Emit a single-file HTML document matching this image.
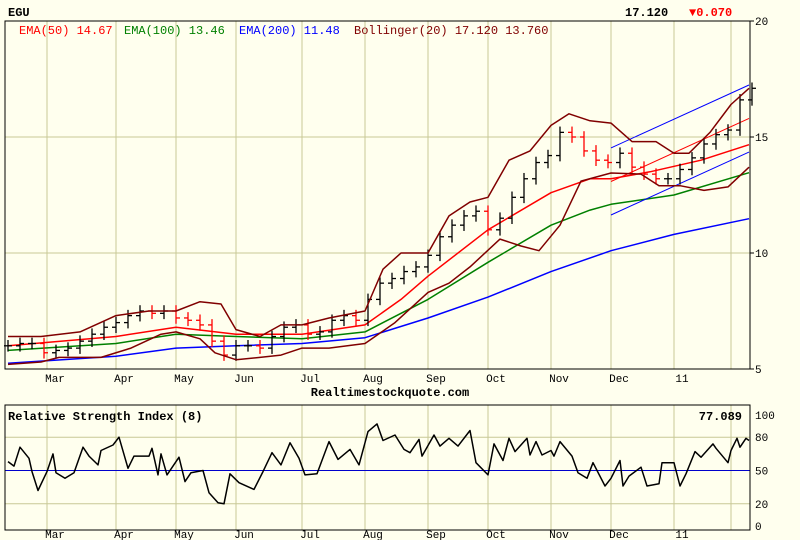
<!DOCTYPE html>
<html><head><meta charset="utf-8">
<style>
body{margin:0;background:#ffffee;}
svg{display:block;font-family:"Liberation Mono","DejaVu Sans Mono",monospace;}
</style></head>
<body>
<svg id="chart" width="800" height="540" xmlns="http://www.w3.org/2000/svg">
<rect x="0" y="0" width="800" height="540" fill="#ffffee"/>
<text x="8" y="16" font-size="12" font-weight="bold" fill="#000">EGU</text>
<text x="625" y="16" font-size="12" font-weight="bold" fill="#000">17.120</text>
<text x="689" y="16" font-size="12" font-weight="bold" fill="#ff0000">▼0.070</text>
<g id="main"></g>
<g id="legend">
<text x="19" y="34" font-size="12" fill="#ff0000">EMA(50) 14.67</text>
<text x="124" y="34" font-size="12" fill="#008000">EMA(100) 13.46</text>
<text x="239" y="34" font-size="12" fill="#0000ff">EMA(200) 11.48</text>
<text x="354" y="34" font-size="12" fill="#800000">Bollinger(20) 17.120 13.760</text>
</g>
<text x="390" y="396" font-size="12" font-weight="bold" text-anchor="middle" fill="#000">Realtimestockquote.com</text>
<g id="rsi"></g>
<text x="8" y="420" font-size="12" font-weight="bold" fill="#000">Relative Strength Index (8)</text>
<text x="742" y="420" font-size="12" font-weight="bold" text-anchor="end" fill="#000">77.089</text>
</svg>
<script>
const months = ["Mar","Apr","May","Jun","Jul","Aug","Sep","Oct","Nov","Dec","11"];
const monthDays = [13,36,56,76,98,119,140,160,181,201,222];
const extraGridDays = [241];
const priceTicks = [20,15,10,5];
const rsiTicks = [100,80,50,20,0];
const closes = [6.0,6.1,6.1,5.7,5.8,5.9,6.2,6.5,6.8,7.0,7.3,7.5,7.4,7.5,7.2,7.1,6.9,6.2,5.6,6.0,6.0,5.9,6.4,6.8,6.9,6.5,6.6,7.1,7.3,7.1,8.0,8.7,8.9,9.2,9.4,9.9,10.7,11.2,11.6,11.8,11.0,11.5,12.4,13.2,13.9,14.2,15.2,15.0,14.4,14.0,13.9,14.3,13.7,13.4,13.2,13.2,13.6,14.1,14.7,15.1,15.3,16.6,17.1];
const barStepDays = 4;
const ema50Days = [0,36,56,76,98,119,131,140,160,181,194,201,214,231,247];
const ema50 = [6.0,6.4,6.8,6.5,6.5,6.9,8.0,9.0,11.0,12.6,13.2,13.2,13.5,14.0,14.67];
const ema100Days = [0,36,56,76,98,119,140,160,181,194,201,222,247];
const ema100 = [5.8,6.1,6.5,6.4,6.3,6.6,8.0,9.6,11.2,11.85,12.1,12.5,13.46];
const ema200Days = [0,36,56,76,98,119,140,160,181,201,222,247];
const ema200 = [5.25,5.55,5.9,6.0,6.1,6.35,7.2,8.1,9.2,10.1,10.8,11.48];
const bbUpDays = [0,11,24,36,47,56,64,71,76,84,91,98,107,119,125,131,140,147,154,160,167,174,181,187,194,201,208,216,222,227,234,241,247];
const bbUp = [6.4,6.4,6.6,7.3,7.5,7.5,7.9,7.8,6.7,6.4,6.9,6.9,7.2,7.5,9.3,10.0,10.0,11.6,12.2,12.4,14.0,14.4,15.5,16.0,15.7,15.6,14.8,14.8,14.3,14.3,15.2,16.4,17.1];
const bbLoDays = [0,11,17,31,41,51,56,64,69,76,84,91,98,107,119,129,140,147,154,164,171,177,184,191,201,211,217,224,232,240,247];
const bbLo = [5.2,5.3,5.5,5.5,5.9,6.5,6.6,6.3,5.7,5.4,5.5,5.6,5.9,5.9,6.1,7.0,8.3,8.7,9.4,10.6,10.3,10.1,11.2,13.1,13.45,13.4,12.9,12.9,12.7,12.85,13.7];
const channelDays = [201,247];
const chanUpper = [14.53,17.24];
const chanMid = [13.08,15.8];
const chanLower = [11.64,14.35];
const rsiDays = [0,2,4,7,8,10,13,15,16,19,22,25,27,30,31,35,37,40,42,47,48,50,51,53,57,59,61,65,67,70,72,74,77,82,85,88,91,94,97,99,103,107,110,114,117,120,123,125,129,132,134,137,138,142,144,147,150,154,156,160,162,165,167,169,173,174,176,178,181,182,184,188,190,193,195,199,201,204,205,207,211,213,217,218,222,224,226,229,231,235,236,240,241,243,244,246,247];
const rsiVals = [58,54,71,61,49,32,49,65,48,43,48,71,63,55,68,73,80,52,63,63,70,46,65,46,62,40,48,50,30,21,20,47,39,33,49,66,55,75,61,46,47,76,60,69,55,85,92,77,82,69,66,78,63,82,72,79,72,86,57,46,74,59,79,67,79,64,76,64,68,63,76,63,48,43,57,36,43,59,36,45,53,36,38,57,57,36,47,67,62,74,70,57,68,79,71,79,77];

const NS="http://www.w3.org/2000/svg";
const L=5,R=750,T=21,B=369,RT=405,RB=530;
function xs(d){return 8+d*3.0;}
function yp(p){return T+(20-p)*(B-T)/15;}
function yr(v){return 526-v*1.11;}
function mk(tag,attrs,parent){const e=document.createElementNS(NS,tag);for(const k in attrs)e.setAttribute(k,attrs[k]);parent.appendChild(e);return e;}
const main=document.getElementById('main'),rsi=document.getElementById('rsi');
mk('rect',{x:L,y:T,width:R-L,height:B-T,fill:'#ffffee',stroke:'none'},main);
mk('rect',{x:L,y:RT,width:R-L,height:RB-RT,fill:'#ffffee',stroke:'none'},rsi);
monthDays.concat(extraGridDays).forEach((d,i)=>{
  let g=mk('line',{x1:xs(d),x2:xs(d),y1:T,y2:B,stroke:'#c8c896'},main);
  
  
  let g2=mk('line',{x1:xs(d),x2:xs(d),y1:RT,y2:RB,stroke:'#c8c896'},rsi);
  
  
});
months.forEach((m,i)=>{
  let t=mk('text',{x:xs(monthDays[i])+8,y:382,'font-size':11,'text-anchor':'middle',fill:'#000'},main);t.textContent=m;
  
  
  let t2=mk('text',{x:xs(monthDays[i])+8,y:538,'font-size':11,'text-anchor':'middle',fill:'#000'},rsi);t2.textContent=m;
  
  
});
priceTicks.forEach(p=>{
  if(p<20&&p>5){let g=mk('line',{x1:L,x2:R,y1:yp(p),y2:yp(p),stroke:'#c8c896'},main);
  
  }
  mk('line',{x1:R,x2:R+4,y1:yp(p),y2:yp(p),stroke:'#000'},main);
  let t=mk('text',{x:R+5,y:yp(p)+4,'font-size':11,fill:'#000'},main);t.textContent=p;
  
  
});
rsiTicks.forEach(v=>{
  if(v==20||v==80){let g=mk('line',{x1:L,x2:R,y1:yr(v),y2:yr(v),stroke:'#c8c896'},rsi);
  
  }
  if(v==50){let g=mk('line',{x1:L,x2:R,y1:yr(v),y2:yr(v),stroke:'#0000cc'},rsi);
  
  }
  let t=mk('text',{x:R+5,y:yr(v)+4,'font-size':11,fill:'#000'},rsi);t.textContent=v;
  
  
});
function line(days,vals,color,w,parent,yf,name){
  const pts=days.map((d,i)=>xs(d).toFixed(1)+','+yf(vals[i]).toFixed(1)).join(' ');
  const e=mk('polyline',{points:pts,fill:'none',stroke:color,'stroke-width':w,'stroke-linejoin':'round'},parent);
  
  
}
line(ema200Days,ema200,'#0000ff',1.5,main,yp,'ema200-line');
line(ema100Days,ema100,'#008000',1.5,main,yp,'ema100-line');
line(ema50Days,ema50,'#ff0000',1.5,main,yp,'ema50-line');
line(channelDays,chanUpper,'#0000ff',1,main,yp,'channel-upper');
line(channelDays,chanLower,'#0000ff',1,main,yp,'channel-lower');
line(channelDays,chanMid,'#ff0000',1,main,yp,'channel-mid');
closes.forEach((c,i)=>{
  const prev=i?closes[i-1]:c;
  const hi=Math.max(prev,c)+0.25, lo=Math.min(prev,c)-0.25;
  const x=xs(i*barStepDays), col=c<prev?'#ff0000':'#000';
  const g=mk('g',{stroke:col,'stroke-width':1.3},main);
  
  
  mk('line',{x1:x,x2:x,y1:yp(hi),y2:yp(lo)},g);
  mk('line',{x1:x-4,x2:x,y1:yp(prev),y2:yp(prev)},g);
  mk('line',{x1:x,x2:x+4,y1:yp(c),y2:yp(c)},g);
});
line(bbUpDays,bbUp,'#800000',1.5,main,yp,'bollinger-upper');
line(bbLoDays,bbLo,'#800000',1.5,main,yp,'bollinger-lower');
line(rsiDays,rsiVals,'#000',1.5,rsi,yr,'rsi-line');
mk('rect',{x:L,y:T,width:R-L,height:B-T,fill:'none',stroke:'#000'},main);
mk('rect',{x:L,y:RT,width:R-L,height:RB-RT,fill:'none',stroke:'#000'},rsi);
</script>
</body></html>
